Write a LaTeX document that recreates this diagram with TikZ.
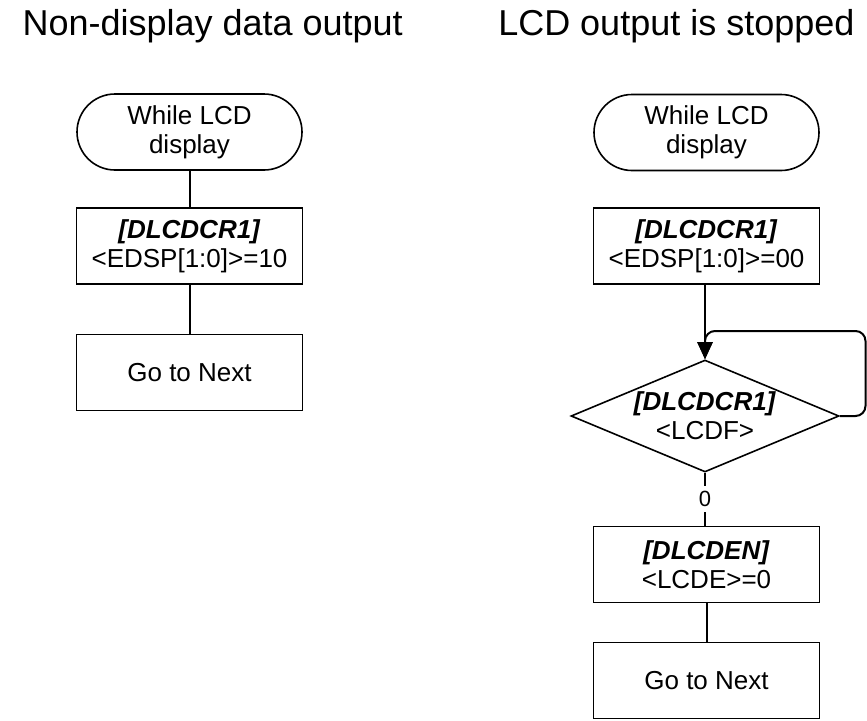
\documentclass[tikz,border=0pt]{standalone}
\usepackage{fontspec}
\setmainfont{Liberation Sans}
\usetikzlibrary{shapes.geometric,arrows.meta}

\tikzset{
  body/.style={font=\fontsize{26}{29}\selectfont, align=center},
  terminal/.style={body, draw, line width=1.6pt, rounded corners=38pt,
    minimum width=225pt, minimum height=76pt, inner sep=0pt},
  procbox/.style={body, draw, line width=1.6pt,
    minimum width=226pt, minimum height=76pt, inner sep=0pt},
  decision/.style={body, draw, diamond, aspect=2.39, line width=1.6pt,
    minimum width=268pt, minimum height=112pt, inner sep=0pt},
  flow/.style={line width=2pt},
  flowarrow/.style={line width=2pt, -{Triangle[length=17pt,width=15pt]}},
  title/.style={font=\fontsize{36}{40}\selectfont},
  branch/.style={font=\fontsize{22}{24}\selectfont, fill=white, inner sep=1pt,
    minimum height=26pt},
}
\newcommand{\regname}[1]{\textbf{\textit{#1}}}

\begin{document}
\begin{tikzpicture}[x=1pt,y=-1pt]
  \useasboundingbox (0,0) rectangle (867,720);

  % headings
  \node[title, anchor=base west] (tleft) at (19,35) {Non-display data output};
  \node[title, anchor=base east] (tright) at (858,35) {LCD output is stopped};

  % left flow: non-display data output
  \node[terminal] (lstart) at (189.5,132) {While LCD\\display};
  \node[procbox] (lset) at (189.5,246) {\regname{[DLCDCR1]}\\<EDSP[1:0]>=10};
  \node[procbox] (lnext) at (189.5,372.5) {Go to Next};
  \draw[flow] (lstart) -- (lset);
  \draw[flow] (lset) -- (lnext);

  % right flow: LCD output is stopped
  \node[terminal] (rstart) at (706.5,132.5) {While LCD\\display};
  \node[procbox] (rset) at (706.5,246) {\regname{[DLCDCR1]}\\<EDSP[1:0]>=00};
  \node[decision] (rwait) at (705,416) {\regname{[DLCDCR1]}\\<LCDF>};
  \node[procbox] (ren) at (706.5,564.5) {\regname{[DLCDEN]}\\<LCDE>=0};
  \node[procbox] (rnext) at (706.5,680.5) {Go to Next};

  \coordinate (loopin) at (rwait.north |- 0,331);
  \draw[flowarrow] (rset.south -| rwait.north) -- (rwait.north);
  \draw[flowarrow, rounded corners=10pt]
    (rwait.east) -- (865.5,416) -- (865.5,331) -- (loopin) -- (rwait.north);
  \draw[flow] (rwait.south) -- (rwait.south |- ren.north)
    node[branch, midway] {0};
  \draw[flow] (ren) -- (rnext);
\end{tikzpicture}
\end{document}
